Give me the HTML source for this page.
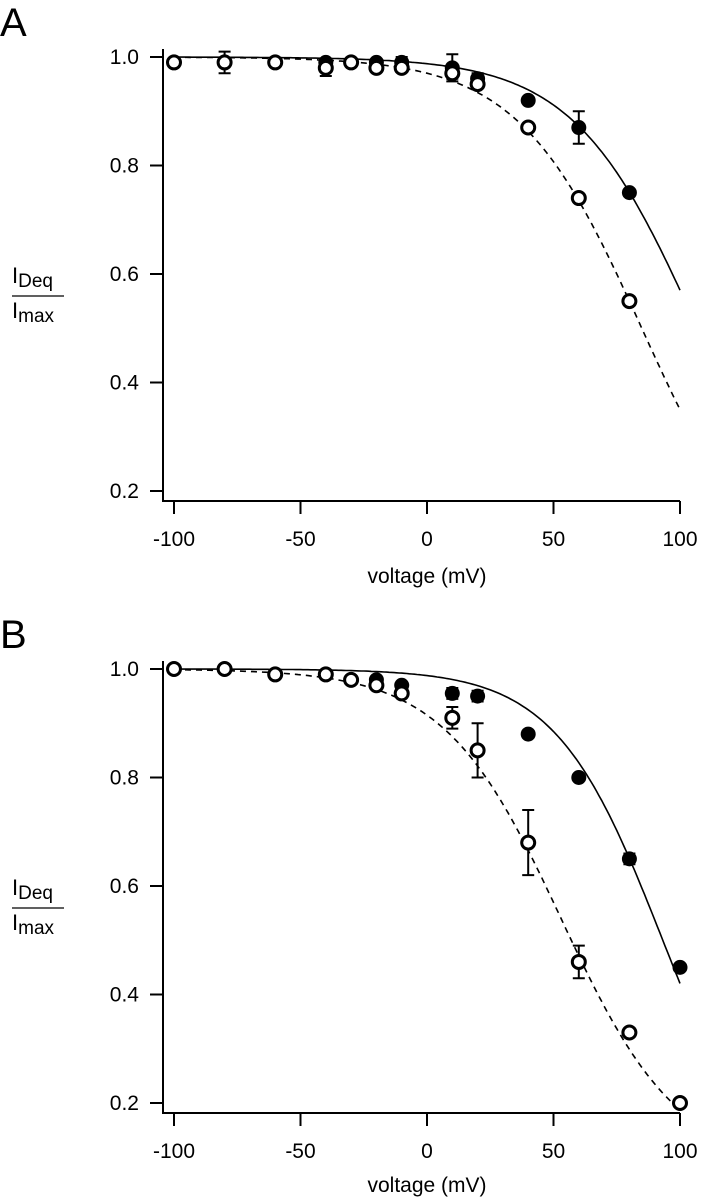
<!DOCTYPE html>
<html><head><meta charset="utf-8"><style>
body{margin:0;background:#fff;}
svg text{font-family:"Liberation Sans",Arial,sans-serif;fill:#000;}
</style></head><body>
<svg id="chart" width="701" height="1199" xmlns="http://www.w3.org/2000/svg"></svg>
<script>
const xTicks=[-100,-50,0,50,100];
const yTicks=[0.2,0.4,0.6,0.8,1.0];
const aFilledV=[-100,-80,-60,-40,-30,-20,-10,10,20,40,60,80];
const aFilledY=[0.99,0.99,0.99,0.99,0.99,0.99,0.99,0.98,0.96,0.92,0.87,0.75];
const aFilledErr=[0,0,0,0,0,0,0.01,0.025,0.01,0,0.03,0];
const aOpenV=[-100,-80,-60,-40,-30,-20,-10,10,20,40,60,80];
const aOpenY=[0.99,0.99,0.99,0.98,0.99,0.98,0.98,0.97,0.95,0.87,0.74,0.55];
const aOpenErr=[0,0.02,0,0.015,0,0,0,0.01,0,0,0,0];
const bFilledV=[-100,-80,-60,-40,-30,-20,-10,10,20,40,60,80,100];
const bFilledY=[1.0,1.0,0.99,0.99,0.98,0.98,0.97,0.955,0.95,0.88,0.80,0.65,0.45];
const bFilledErr=[0,0,0,0,0,0,0,0.01,0.01,0,0,0.01,0];
const bOpenV=[-100,-80,-60,-40,-30,-20,-10,10,20,40,60,80,100];
const bOpenY=[1.0,1.0,0.99,0.99,0.98,0.97,0.955,0.91,0.85,0.68,0.46,0.33,0.2];
const bOpenErr=[0,0,0,0,0,0,0,0.02,0.05,0.06,0.03,0,0];
// Boltzmann fit params [V0, k, floor]
const aSolidFit=[106.9,24.4,0];
const aDashFit=[84.9,24.4,0];
const bSolidFit=[93.2,21.2,0];
const bDashFit=[53,23.2,0.08];

const svg=document.getElementById('chart');
const NS='http://www.w3.org/2000/svg';
function mk(tag,attrs,parent){const e=document.createElementNS(NS,tag);for(const k in attrs)e.setAttribute(k,attrs[k]);(parent||svg).appendChild(e);return e;}
const xS=v=>427+(v/50)*126.5;

function panel(off,letter,fV,fY,fE,oV,oY,oE,sFit,dFit,id){
  const yS=y=>57+off+(1.0-y)*542.5;
  const g=mk('g',{});
  
  
  const L=mk('text',{x:0,y:36+off,'font-size':40},g);L.textContent=letter;
  
  const axisY=501+off;
  const ax=mk('path',{d:`M163,${yS(1.0)-8} V${axisY} H${xS(100)}`,stroke:'#000','stroke-width':2,fill:'none'},g);
  
  xTicks.forEach(t=>{
    mk('line',{x1:xS(t),x2:xS(t),y1:axisY,y2:axisY+13,stroke:'#000','stroke-width':2},g);
    const tx=mk('text',{x:xS(t),y:axisY+45,'font-size':21,'text-anchor':'middle'},g);tx.textContent=t;
    
  });
  yTicks.forEach(t=>{
    mk('line',{x1:150,x2:163,y1:yS(t),y2:yS(t),stroke:'#000','stroke-width':2},g);
    const tx=mk('text',{x:139,y:yS(t)+7,'font-size':21,'text-anchor':'end'},g);tx.textContent=t.toFixed(1);
    
  });
  const xl=mk('text',{x:427,y:axisY+82-(id==='b'?3:0),'font-size':21,'text-anchor':'middle'},g);xl.textContent='voltage (mV)';
  
  const yl=mk('g',{},g);
  
  const t1=mk('text',{x:12,y:283+off,'font-size':22},yl);t1.innerHTML='I<tspan font-size="19" dy="4">Deq</tspan>';
  mk('line',{x1:12,x2:64,y1:296+off,y2:296+off,stroke:'#000','stroke-width':1.2},yl);
  const t2=mk('text',{x:12,y:318+off,'font-size':22},yl);t2.innerHTML='I<tspan font-size="19" dy="4">max</tspan>';
  function curve(p,dash,name){
    let d='';for(let v=-100;v<=100;v+=1){const y=p[2]+(1-p[2])/(1+Math.exp((v-p[0])/p[1]));d+=(v==-100?'M':'L')+xS(v).toFixed(1)+','+yS(y).toFixed(1);}
    const c=mk('path',{d,stroke:'#000','stroke-width':1.6,fill:'none','stroke-dasharray':dash?'6,5':'none'},g);
    
  }
  curve(sFit,false,'fit-solid-'+id);curve(dFit,true,'fit-dashed-'+id);
  function pts(V,Y,E,open,name){
    V.forEach((v,i)=>{
      const cx=xS(v),cy=yS(Y[i]);
      if(E[i]>0){const e=E[i]*542.5;
        mk('path',{d:`M${cx},${cy-e}V${cy+e}M${cx-6},${cy-e}H${cx+6}M${cx-6},${cy+e}H${cx+6}`,stroke:'#000','stroke-width':2,fill:'none'},g);}
      const c=mk('circle',{cx,cy,r:open?6.5:7.5,fill:open?'#fff':'#000',stroke:'#000','stroke-width':open?3:0},g);
      
    });
  }
  pts(fV,fY,fE,false,'point-filled-'+id);
  pts(oV,oY,oE,true,'point-open-'+id);
}
panel(0,'A',aFilledV,aFilledY,aFilledErr,aOpenV,aOpenY,aOpenErr,aSolidFit,aDashFit,'a');
panel(612,'B',bFilledV,bFilledY,bFilledErr,bOpenV,bOpenY,bOpenErr,bSolidFit,bDashFit,'b');
</script>
</body></html>
